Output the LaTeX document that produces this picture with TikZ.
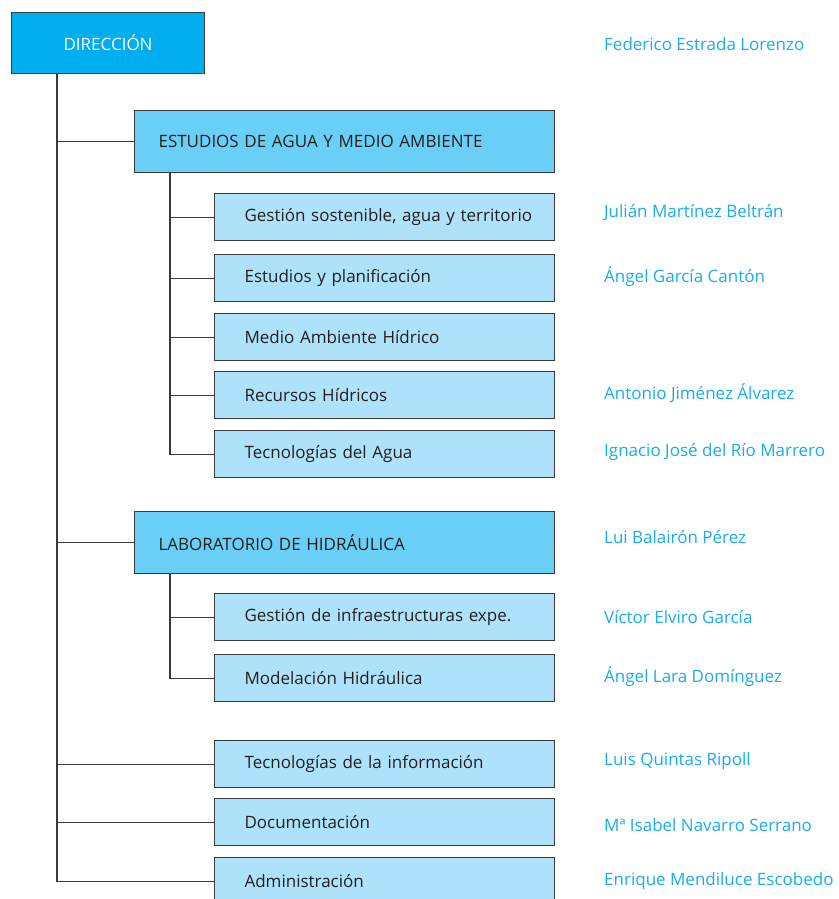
\documentclass[tikz,border=0pt]{standalone}
\usepackage{fontspec}
\setmainfont{Open Sans}
\definecolor{dircol}{HTML}{00AEEF}
\definecolor{midcol}{HTML}{6ACFF6}
\definecolor{lightcol}{HTML}{AEE2FA}
\definecolor{edgecol}{HTML}{3A3A3A}
\definecolor{txtcol}{HTML}{231F20}
\definecolor{namecol}{HTML}{1AADEB}
\tikzset{
  base/.style={draw=edgecol, line width=1.1pt, rectangle, inner sep=0pt, font=\fontsize{17}{20}\selectfont, text=txtcol, anchor=north west},
  dirbox/.style={base, fill=dircol, text=white, minimum width=193pt, minimum height=61pt},
  midbox/.style={base, fill=midcol, text width=420pt, minimum height=62pt, align=left, execute at begin node=\hspace*{24pt}},
  subbox/.style={base, fill=lightcol, text width=340pt, minimum height=47pt, align=left, execute at begin node=\hspace*{30pt}},
  person/.style={anchor=west, inner sep=0pt, text=namecol, font=\fontsize{17}{20}\selectfont},
  link/.style={draw=edgecol, line width=1.1pt}
}
\begin{document}
\begin{tikzpicture}[x=1pt,y=-1pt]
\clip (0,0) rectangle (838,899);
\fill[white] (0,0) rectangle (838,899);
\coordinate (trunk) at (57,0);
\coordinate (sub) at (170,0);

\node[dirbox] (dir) at (11,12) {DIRECCIÓN};
\node[midbox] (est) at (134,110) {ESTUDIOS DE AGUA Y MEDIO AMBIENTE};
\node[subbox] (e1) at (214,193) {Gestión sostenible, agua y territorio};
\node[subbox] (e2) at (214,254) {Estudios y planificación};
\node[subbox] (e3) at (214,313) {Medio Ambiente Hídrico};
\node[subbox] (e4) at (214,371) {Recursos Hídricos};
\node[subbox] (e5) at (214,430) {Tecnologías del Agua};
\node[midbox] (lab) at (134,511) {LABORATORIO DE HIDRÁULICA};
\node[subbox] (l1) at (214,593) {Gestión de infraestructuras expe.};
\node[subbox] (l2) at (214,654) {Modelación Hidráulica};
\node[subbox] (tic) at (214,740) {Tecnologías de la información};
\node[subbox] (doc) at (214,798) {Documentación};
\node[subbox] (adm) at (214,857) {Administración};

\draw[link] (dir.south -| trunk) |- (adm.west);
\draw[link] (trunk |- est.west) -- (est.west);
\draw[link] (trunk |- lab.west) -- (lab.west);
\draw[link] (trunk |- tic.west) -- (tic.west);
\draw[link] (trunk |- doc.west) -- (doc.west);

\draw[link] (est.south -| sub) |- (e5.west);
\foreach \n in {e1,e2,e3,e4} \draw[link] (sub |- \n.west) -- (\n.west);
\draw[link] (lab.south -| sub) |- (l2.west);
\draw[link] (sub |- l1.west) -- (l1.west);

\node[person] (p0) at (604,44) {Federico Estrada Lorenzo};
\node[person] (p1) at (604,212.5) {Julián Martínez Beltrán};
\node[person] (p2) at (604,276.5) {Ángel García Cantón};
\node[person] (p3) at (604,393.5) {Antonio Jiménez Álvarez};
\node[person] (p4) at (604,452.5) {Ignacio José del Río Marrero};
\node[person] (p5) at (604,537.5) {Lui Balairón Pérez};
\node[person] (p6) at (604,617.5) {Víctor Elviro García};
\node[person] (p7) at (604,676.5) {Ángel Lara Domínguez};
\node[person] (p8) at (604,761.5) {Luis Quintas Ripoll};
\node[person] (p9) at (604,825.5) {Mª Isabel Navarro Serrano};
\node[person] (p10) at (604,881.5) {Enrique Mendiluce Escobedo};
\end{tikzpicture}
\end{document}
